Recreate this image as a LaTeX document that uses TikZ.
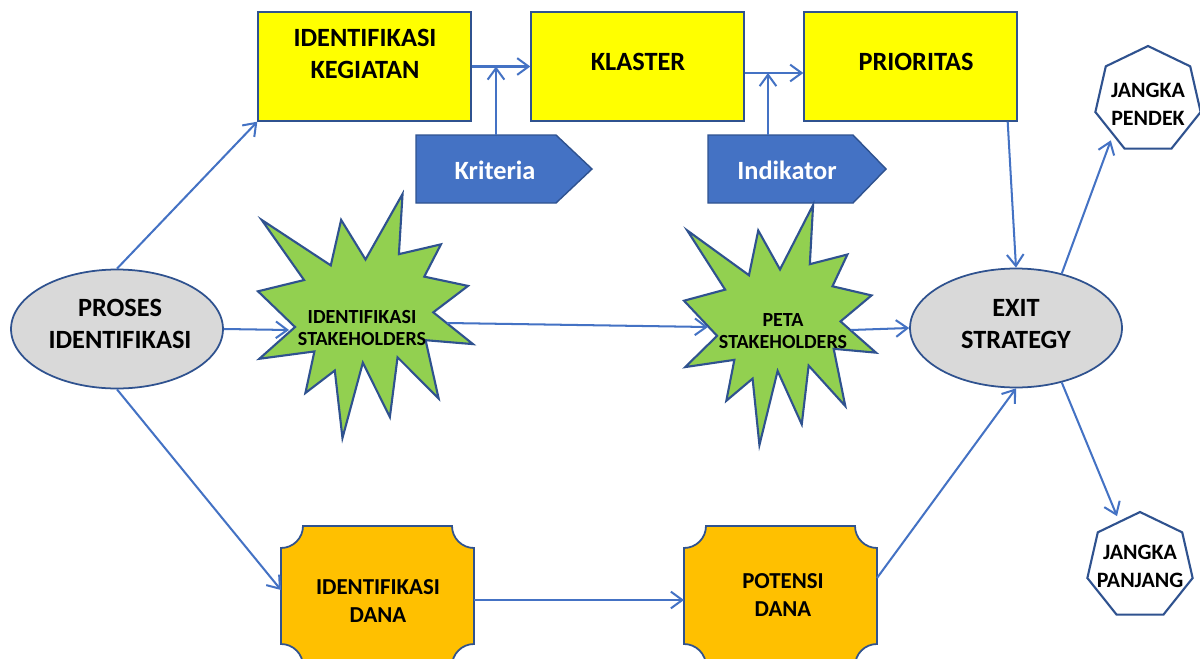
\documentclass[tikz,border=0pt]{standalone}
\usepackage{fontspec}
\setmainfont{Carlito}
\usetikzlibrary{arrows.meta,shapes.geometric,calc}

\definecolor{linkblue}{HTML}{4472C4}
\definecolor{edgeblue}{HTML}{2F528F}
\definecolor{boxyellow}{HTML}{FFFF00}
\definecolor{burstgreen}{HTML}{92D050}
\definecolor{plaqueorange}{HTML}{FFC000}
\definecolor{ovalgrey}{HTML}{D9D9D9}

\tikzset{
  arr/.style={draw=linkblue, line width=1.15pt, -{Straight Barb[length=6.5pt,width=9.5pt]}},
  ybox/.style={draw=edgeblue, line width=0.8pt, fill=boxyellow, minimum width=4.26cm, minimum height=2.18cm, inner sep=0pt},
  oval/.style={ellipse, draw=edgeblue, line width=1pt, fill=ovalgrey, minimum width=4.24cm, minimum height=2.38cm, inner sep=0pt},
  hepta/.style={regular polygon, regular polygon sides=7, draw=edgeblue, line width=1.2pt, fill=white, minimum size=2.16cm, inner sep=0pt},
  sealstyle/.style={draw=edgeblue, line width=1.2pt, fill=burstgreen, line join=miter},
  plaquestyle/.style={draw=edgeblue, line width=1pt, fill=plaqueorange},
  tagstyle/.style={draw=edgeblue, line width=0.8pt, fill=linkblue},
  bigtxt/.style={font=\bfseries\fontsize{15}{18}\selectfont, align=center, inner sep=0pt},
  midtxt/.style={font=\bfseries\fontsize{13}{15.4}\selectfont, align=center, inner sep=0pt},
  heptxt/.style={font=\bfseries\fontsize{12.5}{16}\selectfont, align=center, inner sep=0pt},
  smalltxt/.style={font=\bfseries\fontsize{11.4}{13}\selectfont, align=center, inner sep=0pt},
  % explosion outline on a 216 x 216 grid, y pointing down
  seal/.pic={
    \path[sealstyle] (108,58) -- (145.22,0) -- (141.55,53.25) -- (183.80,44.57)
      -- (167.02,73.15) -- (210.97,81.37) -- (176.07,104.75) -- (216,132.90)
      -- (168.37,129.42) -- (181.45,180.95) -- (140.20,144.57) -- (132.47,197.37)
      -- (105.32,149.35) -- (84.85,216) -- (77.15,156.27) -- (47.62,176.17)
      -- (56.67,139.37) -- (1.35,145.87) -- (37.22,117.75) -- (0,86.15)
      -- (46.27,76.17) -- (3.70,22.95) -- (73.12,63.20) -- (83.52,22.95) -- cycle;
  },
  % plaque with concave corners, 193 x 140
  plaque/.pic={
    \path[plaquestyle] (22,0) -- (171,0) .. controls (171,12.1) and (180.9,22) .. (193,22)
      -- (193,118) .. controls (180.9,118) and (171,127.9) .. (171,140)
      -- (22,140) .. controls (22,127.9) and (12.1,118) .. (0,118)
      -- (0,22) .. controls (12.1,22) and (22,12.1) .. (22,0) -- cycle;
  },
}

\begin{document}
\begin{tikzpicture}[x=0.02cm, y=-0.02cm]
\useasboundingbox (0,0) rectangle (1200,659);
\fill[white] (0,0) rectangle (1200,659);

% top row
\node[ybox] (kegiatan) at (364.5,66.5) {};
\node[bigtxt] (kegiatan-t) at (365,54) {IDENTIFIKASI\\KEGIATAN};
\node[ybox] (klaster) at (637.5,66.5) {};
\node[bigtxt] (klaster-t) at (638,62) {KLASTER};
\node[ybox] (prioritas) at (910.5,66.5) {};
\node[bigtxt] (prioritas-t) at (916,62) {PRIORITAS};

% input tags
\draw[tagstyle] (416,135) -- (556,135) -- (592,169) -- (556,203) -- (416,203) -- cycle;
\node[bigtxt, text=white] (kriteria) at (495,170) {Kriteria};
\draw[tagstyle] (708,135) -- (853,135) -- (886,169) -- (853,203) -- (708,203) -- cycle;
\node[bigtxt, text=white] (indikator) at (787,170) {Indikator};

% start and end ovals
\node[oval] (proses) at (117,329) {};
\node[bigtxt] (proses-t) at (120,324) {PROSES\\IDENTIFIKASI};
\node[oval] (exit) at (1016,328) {};
\node[bigtxt] (exit-t) at (1016,324) {EXIT\\STRATEGY};

% stakeholder bursts
\path (258,194) pic[xscale=0.9954, yscale=1.1296] {seal};
\node[smalltxt] (stk1) at (362,328) {IDENTIFIKASI\\STAKEHOLDERS};
\path (684,205) pic[xscale=0.8889, yscale=1.1111] {seal};
\node[smalltxt] (stk2) at (783,331) {PETA\\STAKEHOLDERS};

% funding plaques
\path (281,526) pic {plaque};
\node[midtxt] (dana1) at (378,601) {IDENTIFIKASI\\DANA};
\path (684,526) pic {plaque};
\node[midtxt] (dana2) at (783,595) {POTENSI\\DANA};

% outcomes
\node[hepta] (pendek) at (1148,100) {};
\node[heptxt] (pendek-t) at (1148,104) {JANGKA\\PENDEK};
\node[hepta] (panjang) at (1140,566) {};
\node[heptxt] (panjang-t) at (1140,566) {JANGKA\\PANJANG};

% connector ends on the irregular outlines
\coordinate (krit-top) at (496,135);
\coordinate (ind-top) at (768,135);
\coordinate (kl-out) at ($(klaster.east)+(0,6.5)$);
\coordinate (s1-in) at (289,330);
\coordinate (s1-out) at (447,323);
\coordinate (s2-in) at (708,327);
\coordinate (s2-out) at (851,330);
\coordinate (d1-in) at (281,590);
\coordinate (d1-out) at (474,600);
\coordinate (d2-in) at (684,600);
\coordinate (d2-out) at (877,578);
\coordinate (prio-out) at ($(prioritas.south east)+(-10,0)$);

% connectors
\draw[arr] (kegiatan.east) -- (klaster.west);
\draw[arr] (kl-out) -- (prioritas.west |- kl-out);
\draw[arr] (krit-top) -- (krit-top |- kegiatan.east);
\draw[arr] (ind-top) -- (ind-top |- kl-out);
\draw[arr] (proses.north) -- (kegiatan.south west);
\draw[arr] (proses.east) -- (s1-in);
\draw[arr] (proses.south) -- (d1-in);
\draw[arr] (s1-out) -- (s2-in);
\draw[arr] (s2-out) -- (exit.west);
\draw[arr] (d1-out) -- (d2-in);
\draw[arr] (d2-out) -- (exit.south);
\draw[arr] (prio-out) -- (exit.north);
\draw[arr, shorten >=3pt] (exit.50) -- (pendek.225);
\draw[arr, shorten >=3pt] (exit.-50) -- (panjang.115);
\end{tikzpicture}
\end{document}
